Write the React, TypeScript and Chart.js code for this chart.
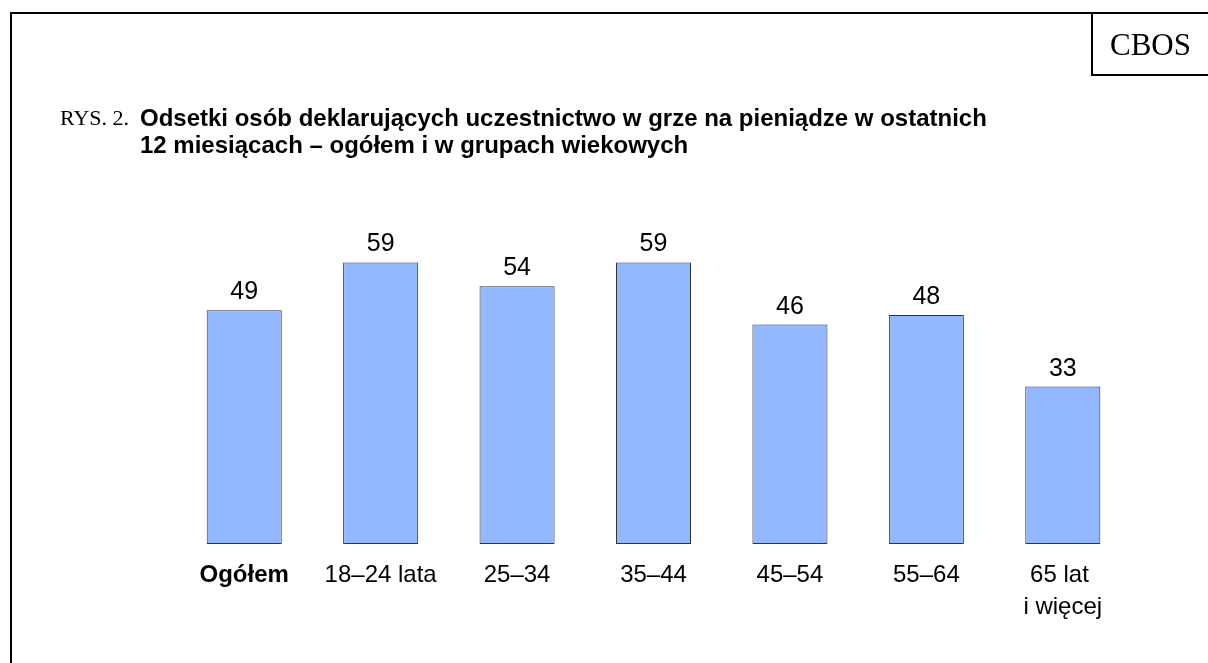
import React, { useEffect, useRef } from "react";
import { Chart, registerables } from "chart.js";

Chart.register(...registerables);

const categories: (string | string[])[] = [
  "Ogółem",
  "18–24 lata",
  "25–34",
  "35–44",
  "45–54",
  "55–64",
  ["65 lat ", "i więcej"],
];
const values: number[] = [49, 59, 54, 59, 46, 48, 33];
const figureLabel = "RYS. 2.";
const titleLines: string[] = [
  "Odsetki osób deklarujących uczestnictwo w grze na pieniądze w ostatnich",
  "12 miesiącach – ogółem i w grupach wiekowych",
];
const sourceLabel = "CBOS";

const SANS = '"Liberation Sans", Arial, sans-serif';
const SERIF = '"Liberation Serif", "Times New Roman", serif';

const valueLabelsPlugin = {
  id: "valueLabels",
  afterDatasetsDraw(chart: any) {
    const { ctx } = chart;
    const meta = chart.getDatasetMeta(0);
    ctx.save();
    ctx.font = `25px ${SANS}`;
    ctx.fillStyle = "#000";
    ctx.textAlign = "center";
    ctx.textBaseline = "alphabetic";
    meta.data.forEach((bar: any, i: number) => {
      ctx.fillText(String(values[i]), bar.x, bar.y - 11);
    });
    ctx.restore();
  },
};

export default function App() {
  const canvasRef = useRef<HTMLCanvasElement | null>(null);

  useEffect(() => {
    if (!canvasRef.current) return;
    const chart = new Chart(canvasRef.current, {
      type: "bar",
      data: {
        labels: categories,
        datasets: [
          {
            data: values,
            backgroundColor: "#94B8FF",
            borderColor: "#333333",
            borderWidth: 1,
            borderSkipped: false,
            categoryPercentage: 1,
            barPercentage: 0.55,
          },
        ],
      },
      options: {
        responsive: false,
        animation: false,
        devicePixelRatio: 1,
        layout: { padding: { left: 176, right: 77, top: 210, bottom: 0 } },
        plugins: {
          legend: { display: false },
          tooltip: { enabled: false },
          title: { display: false },
        },
        scales: {
          x: {
            grid: { display: false, drawTicks: false },
            border: { display: false },
            ticks: {
              color: "#000",
              padding: 15,
              autoSkip: false,
              maxRotation: 0,
              minRotation: 0,
              font: (c: any) => ({
                family: SANS,
                size: 24,
                weight: c.index === 0 ? "bold" : "normal",
                lineHeight: 1.33,
              }),
            },
            afterFit: (s: any) => {
              s.height = 119;
            },
          },
          y: { display: false, min: 0, max: 70 },
        },
      },
      plugins: [valueLabelsPlugin],
    });
    return () => chart.destroy();
  }, []);

  return (
    <div
      style={{
        position: "absolute",
        left: 0,
        top: 0,
        width: 1208,
        height: 663,
        overflow: "hidden",
        background: "#fff",
      }}
    >
      <canvas
        ref={canvasRef}
        width={1208}
        height={663}
        style={{ position: "absolute", left: 0, top: 0, width: 1208, height: 663 }}
      />
      <div
        style={{
          position: "absolute",
          left: 10,
          top: 12,
          width: 1220,
          height: 700,
          borderLeft: "2px solid #000",
          borderTop: "2px solid #000",
          pointerEvents: "none",
        }}
      />
      <div
        style={{
          position: "absolute",
          left: 1091,
          top: 12,
          width: 140,
          height: 62,
          borderLeft: "2px solid #000",
          borderBottom: "2px solid #000",
          pointerEvents: "none",
        }}
      />
      <div
        style={{
          position: "absolute",
          left: 1093,
          top: 14,
          width: 115,
          height: 62,
          lineHeight: "62px",
          textAlign: "center",
          fontFamily: SERIF,
          fontSize: 31,
          color: "#000",
        }}
      >
        {sourceLabel}
      </div>
      <div
        style={{
          position: "absolute",
          left: 60,
          top: 104,
          fontFamily: SERIF,
          fontSize: 22,
          lineHeight: "27px",
          color: "#000",
        }}
      >
        {figureLabel}
      </div>
      <div
        style={{
          position: "absolute",
          left: 140,
          top: 104,
          fontFamily: SANS,
          fontWeight: "bold",
          fontSize: 24,
          lineHeight: "27px",
          color: "#000",
          whiteSpace: "nowrap",
        }}
      >
        {titleLines.map((t, i) => (
          <div key={i}>{t}</div>
        ))}
      </div>
    </div>
  );
}
